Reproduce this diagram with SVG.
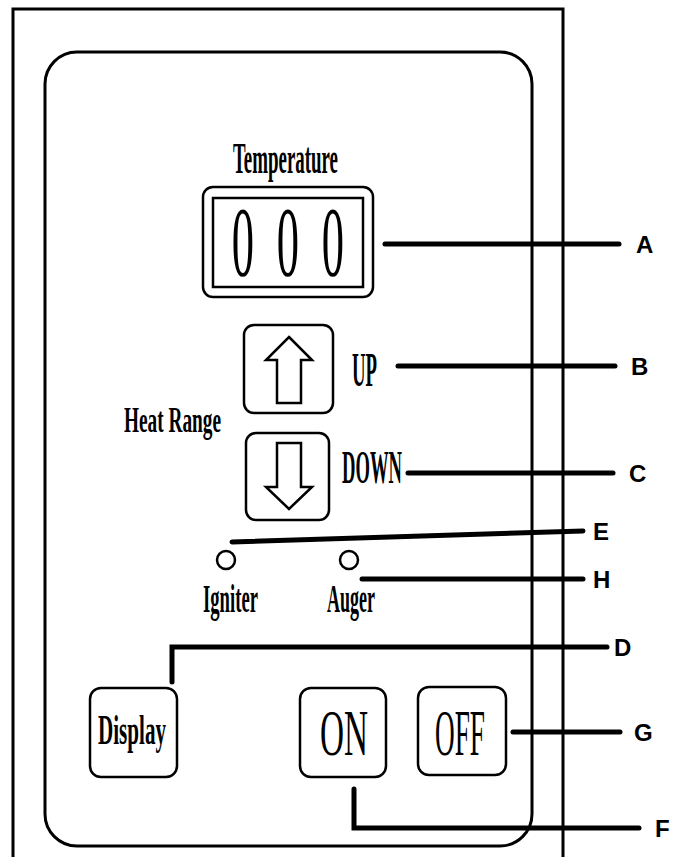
<svg xmlns="http://www.w3.org/2000/svg" width="677" height="857" viewBox="0 0 677 857">
<style>
.frame{fill:none;stroke:#000;stroke-width:3}
.btn{fill:#fff;stroke:#000;stroke-width:2.5}
.arrow{fill:#fff;stroke:#000;stroke-width:2.5;stroke-linejoin:miter}
.lbl{font-family:"Liberation Serif","Times New Roman",serif;font-weight:bold;fill:#000}
.lbln{font-family:"Liberation Serif","Times New Roman",serif;font-weight:normal;fill:#000}
.digit{font-family:"Liberation Serif","Times New Roman",serif;font-size:99px;fill:#000;text-anchor:middle}
.led{fill:#fff;stroke:#000;stroke-width:2.5}
.conn{fill:none;stroke:#000;stroke-width:5;stroke-linecap:round;stroke-linejoin:miter}
.key{font-family:"Liberation Sans",Arial,sans-serif;font-weight:bold;font-size:24px;fill:#000}
</style>
<rect width="677" height="857" fill="#fff"/>
<g id="housing">
<path class="frame" d="M13,857 V9 H563 V857"/>
<rect class="frame" x="45" y="52" width="487" height="794" rx="32"/>
</g>
<g id="temperature-display">
<text class="lbl" x="233" y="173" font-size="44" textLength="105" lengthAdjust="spacingAndGlyphs">Temperature</text>
<rect class="btn" x="203" y="187" width="170" height="110" rx="10" stroke-width="3"/>
<rect fill="none" stroke="#000" stroke-width="2.5" x="213" y="198" width="150" height="89"/>
<text class="digit" transform="translate(243,275) scale(0.45,1)">0</text>
<text class="digit" transform="translate(288,275) scale(0.45,1)">0</text>
<text class="digit" transform="translate(333,275) scale(0.45,1)">0</text>
</g>
<g id="heat-range-label">
<text class="lbl" x="124" y="432" font-size="36" textLength="97" lengthAdjust="spacingAndGlyphs">Heat Range</text>
</g>
<g id="up-button">
<rect class="btn" x="244" y="325" width="89" height="88" rx="10"/>
<polygon class="arrow" points="289,337 312,360 301,360 301,403 277,403 277,360 266,360"/>
<text class="lbl" x="352" y="386" font-size="48" textLength="25" lengthAdjust="spacingAndGlyphs">UP</text>
</g>
<g id="down-button">
<rect class="btn" x="246" y="433" width="83" height="87" rx="10"/>
<polygon class="arrow" points="277,443 301,443 301,487 312,487 289,509 266,487 277,487"/>
<text class="lbl" x="342" y="483" font-size="46" textLength="60" lengthAdjust="spacingAndGlyphs">DOWN</text>
</g>
<g id="igniter-led">
<circle class="led" cx="226" cy="560" r="9"/>
<text class="lbl" x="203" y="612" font-size="40" textLength="55" lengthAdjust="spacingAndGlyphs">Igniter</text>
</g>
<g id="auger-led">
<circle class="led" cx="349" cy="560" r="9"/>
<text class="lbl" x="327" y="612" font-size="40" textLength="48" lengthAdjust="spacingAndGlyphs">Auger</text>
</g>
<g id="display-button">
<rect class="btn" x="90" y="688" width="87" height="89" rx="11"/>
<text class="lbl" x="98" y="744" font-size="42" textLength="68" lengthAdjust="spacingAndGlyphs">Display</text>
</g>
<g id="on-button">
<rect class="btn" x="300" y="688" width="86" height="89" rx="11"/>
<text class="lbln" x="320" y="755" font-size="66" textLength="48" lengthAdjust="spacingAndGlyphs">ON</text>
</g>
<g id="off-button">
<rect class="btn" x="418" y="687" width="88" height="88" rx="11"/>
<text class="lbln" x="435" y="755" font-size="66" textLength="50" lengthAdjust="spacingAndGlyphs">OFF</text>
</g>
<g id="connectors">
<line class="conn" x1="385" y1="244" x2="619" y2="244"/>
<line class="conn" x1="398" y1="366" x2="615" y2="366"/>
<line class="conn" x1="408" y1="473" x2="613" y2="473"/>
<line class="conn" x1="232" y1="542" x2="583" y2="531"/>
<line class="conn" x1="362" y1="579" x2="583" y2="579"/>
<path class="conn" d="M172,682 V647 H607"/>
<line class="conn" x1="513" y1="732" x2="620" y2="732"/>
<path class="conn" d="M354,789 V828 H639"/>
</g>
<g id="callout-labels">
<text class="key" x="636" y="253">A</text>
<text class="key" x="631" y="375">B</text>
<text class="key" x="629" y="482">C</text>
<text class="key" x="593" y="540">E</text>
<text class="key" x="593" y="588">H</text>
<text class="key" x="614" y="656">D</text>
<text class="key" x="634" y="741">G</text>
<text class="key" x="655" y="837">F</text>
</g>
</svg>
